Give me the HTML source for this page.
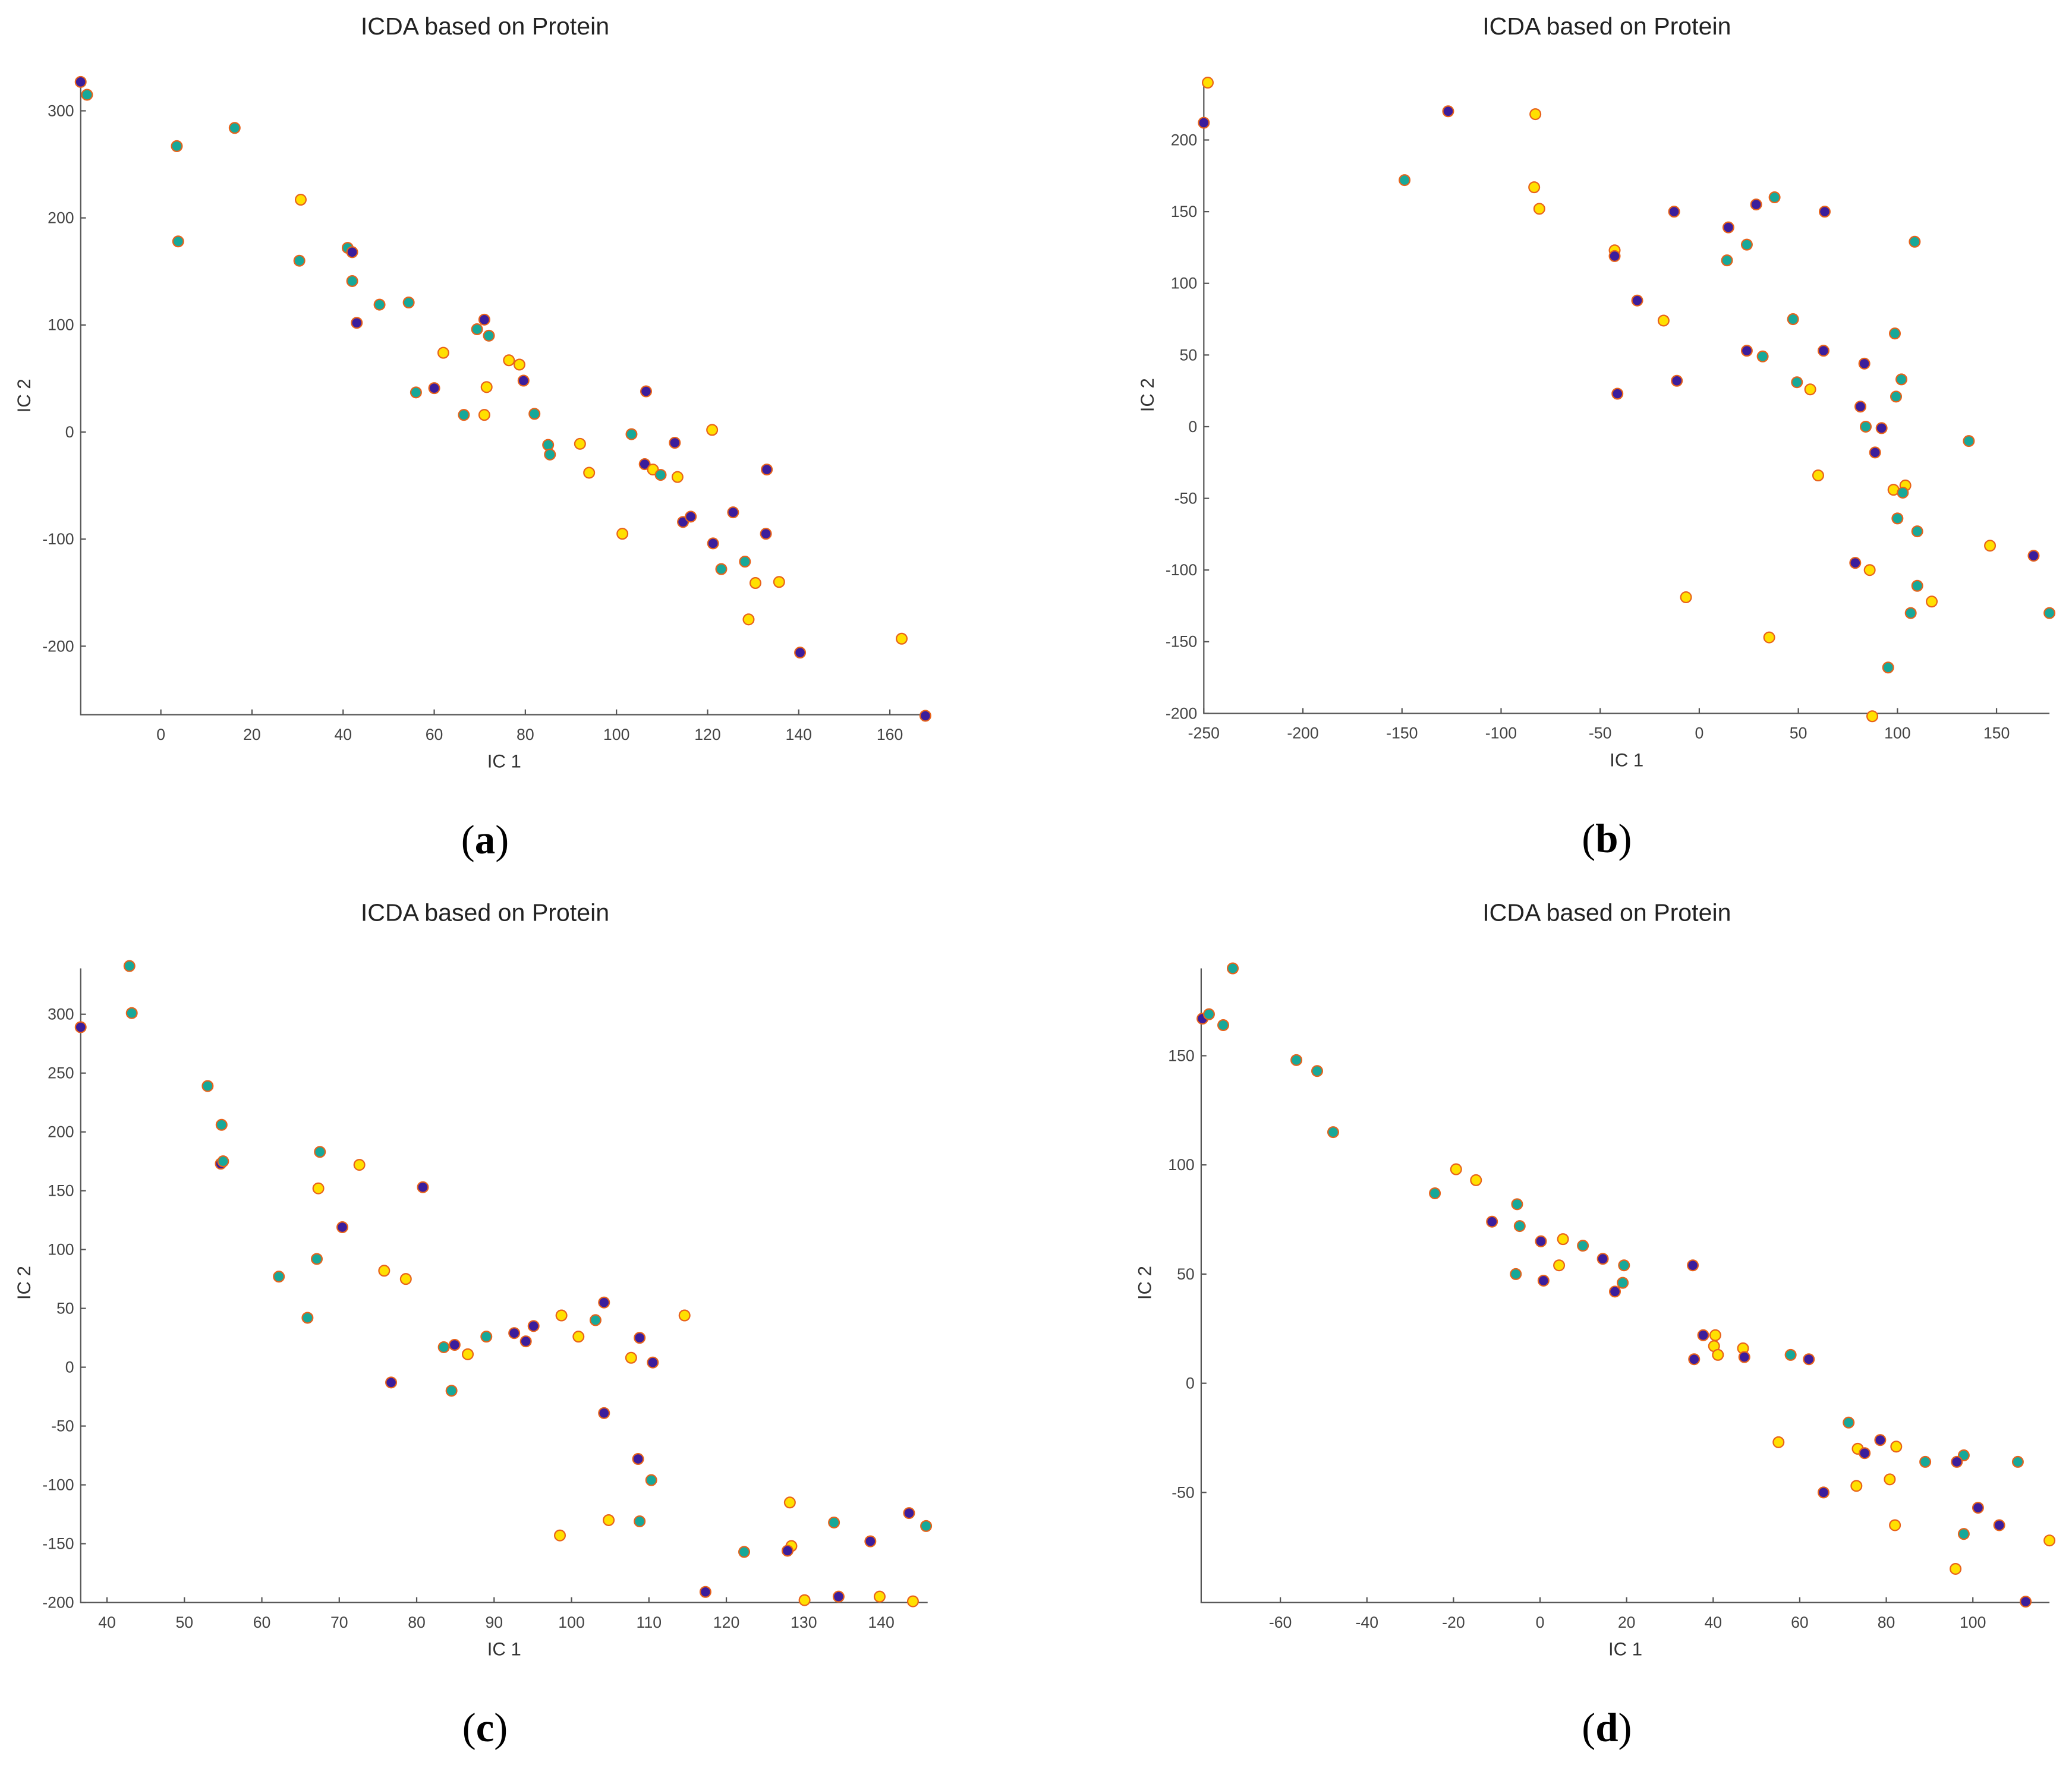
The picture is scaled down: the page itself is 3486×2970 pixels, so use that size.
<!DOCTYPE html>
<html><head><meta charset="utf-8"><style>
html,body{margin:0;padding:0;background:#fff;}
svg{display:block;}
</style></head><body>
<svg id="fig" width="3486" height="2970" viewBox="0 0 1568 1336" xmlns="http://www.w3.org/2000/svg" font-family="Liberation Sans, sans-serif"></svg>
<script>
// ---- Panel (a) data ----
const aX = [-17.6,-16.2,3.5,16.2,3.8,30.7,30.4,41,42,42,43,48,54.4,56,60,62,66.5,69.4,71,72,71.5,71,76.4,78.7,79.6,82,85,85.4,92,94,101.3,103.3,106.5,106.2,108,109.7,112.8,113.4,114.6,116.3,121,121.2,125.6,123,128.2,129,130.5,133,132.8,135.7,140.3,162.6,167.8];
const aY = [327,315,267,284,178,217,160,172,168,141,102,119,121,37,41,74,16,96,105,90,42,16,67,63,48,17,-12,-21,-11,-38,-95,-2,38,-30,-35,-40,-10,-42,-84,-79,2,-104,-75,-128,-121,-175,-141,-35,-95,-140,-206,-193,-265];
const aC = "PTTTTYTTPTPTTTPYTTPTYYYYPTTTYYYTPPYTPYPPYPPTTYYPPYPYP";
// ---- Panel (b) data ----
const bX = [-248,-250,-126.7,-148.7,-82.7,-83.3,-80.7,-42.7,-42.7,-31.3,-18,-41.3,-11.3,-12.7,-6.7,14.7,14,24,28.7,38,24,32,47.3,49.3,56,62.7,60,35.3,63.3,83.3,81.3,84,92,88.7,98.7,102,99.3,108.7,98,104,102.7,100,110,136,78.7,86,110,106.7,117.3,95.3,87.3,146.7,168.7,176.7];
const bY = [240,212,220,172,218,167,152,123,119,88,74,23,32,150,-119,139,116,127,155,160,53,49,75,31,26,53,-34,-147,150,44,14,0,-1,-18,65,33,21,129,-44,-41,-46,-64,-73,-10,-95,-100,-111,-130,-122,-168,-202,-83,-90,-130];
const bC = "YPPTYYYYPPYPPPYPTTPTPTTTYPYYPPPTPPTTTTYYTTTTPYTTYTYYPT";
// ---- Panel (c) data ----
const cX = [36.6,42.9,43.2,53,54.8,54.7,55,67.5,67.3,72.6,70.4,67.1,62.2,65.9,75.8,78.6,80.8,76.7,83.5,84.9,86.6,84.5,89,92.6,94.1,95.1,98.7,100.9,103.1,104.2,104.2,107.7,108.8,110.5,110.3,108.6,108.8,104.8,98.5,114.6,117.3,122.3,128.2,128.4,127.9,133.9,138.6,143.6,145.8,130.1,134.5,139.8,144.1];
const cY = [289,341,301,239,206,173,175,183,152,172,119,92,77,42,82,75,153,-13,17,19,11,-20,26,29,22,35,44,26,40,55,-39,8,25,4,-96,-78,-131,-130,-143,44,-191,-157,-115,-152,-156,-132,-148,-124,-135,-198,-195,-195,-199];
const cC = "PTTTTPTTYYPTTTYYPPTPYTTPPPYYTPPYPPTPTYYYPTYYPTPPTYPYY";
// ---- Panel (d) data ----
const dX = [-78,-76.5,-73.2,-71,-56.3,-51.5,-47.8,-24.3,-19.4,-14.8,-11.1,-5.3,-4.7,-5.6,0.2,0.8,5.3,4.4,9.9,14.5,19.4,19.1,17.3,35.3,35.6,37.7,40.5,40.2,41.1,46.9,47.2,57.9,62.1,55.1,71.3,73.4,75,78.6,82.3,73.1,80.8,65.5,89,82,97.9,96.3,110.4,101.2,106.1,97.9,96,117.7,112.2];
const dY = [167,169,164,190,148,143,115,87,98,93,74,82,72,50,65,47,66,54,63,57,54,46,42,54,11,22,22,17,13,16,12,13,11,-27,-18,-30,-32,-26,-29,-47,-44,-50,-36,-65,-33,-36,-36,-57,-65,-69,-85,-72,-100];
const dC = "PTTTTTTTYYPTTTPPYYTPTTPPPPYYYYPTPYTYPPYYYPTYTPTPPTYYP";
// tick labels
const aXT = [0,20,40,60,80,100,120,140,160], aYT = [-200,-100,0,100,200,300];
const bXT = [-250,-200,-150,-100,-50,0,50,100,150], bYT = [-200,-150,-100,-50,0,50,100,150,200];
const cXT = [40,50,60,70,80,90,100,110,120,130,140], cYT = [-200,-150,-100,-50,0,50,100,150,200,250,300];
const dXT = [-60,-40,-20,0,20,40,60,80,100], dYT = [-50,0,50,100,150];

const NS = "http://www.w3.org/2000/svg";
const svg = document.getElementById('fig');
const FILL = {P:'#3b1d9c', T:'#17a899', Y:'#ffe000'};
function mk(tag, attrs, parent){const e=document.createElementNS(NS,tag);for(const k in attrs)e.setAttribute(k,attrs[k]);(parent||svg).appendChild(e);return e;}

function panel(id, box, xlim, ylim, xs, ys, cs, xt, yt, cap, cx){
  const g = mk('g',{});
  
  
  const [L,T,R,B] = box;
  const sx = v => L + (v - xlim[0])/(xlim[1]-xlim[0])*(R-L);
  const sy = v => B - (v - ylim[0])/(ylim[1]-ylim[0])*(B-T);
  const title = mk('text',{x:cx,y:T-36,'font-size':18.5,'text-anchor':'middle',fill:'#222'},g);
  title.textContent='ICDA based on Protein';
  
  
  const ax = mk('path',{d:`M${L},${T} L${L},${B} L${R},${B}`,stroke:'#555',fill:'none','stroke-width':1},g);
  
  
  xt.forEach(v=>{const x=sx(v);
    mk('line',{x1:x,x2:x,y1:B,y2:B-4,stroke:'#555'},g);
    const t=mk('text',{x:x,y:B+19,'font-size':12,'text-anchor':'middle',fill:'#444'},g);t.textContent=v;
    
    });
  yt.forEach(v=>{const y=sy(v);
    mk('line',{x1:L,x2:L+4,y1:y,y2:y,stroke:'#555'},g);
    const t=mk('text',{x:L-5,y:y+4,'font-size':12,'text-anchor':'end',fill:'#444'},g);t.textContent=v;
    
    });
  const xl=mk('text',{x:(L+R)/2,y:B+40,'font-size':14,'text-anchor':'middle',fill:'#333'},g);xl.textContent='IC 1';
  
  
  const yc=(T+B)/2-2;
  const yl=mk('text',{x:L-38,y:yc,'font-size':14,'text-anchor':'middle',fill:'#333',transform:`rotate(-90 ${L-38} ${yc})`},g);yl.textContent='IC 2';
  
  
  xs.forEach((v,i)=>{
    const c=mk('circle',{cx:sx(v),cy:sy(ys[i]),r:4,fill:FILL[cs[i]],stroke:'#e8621a','stroke-width':1},g);
    
    
  });
  const cp=mk('text',{x:cx,y:B+105,'font-size':31,'text-anchor':'middle',fill:'#000','font-family':'Liberation Serif, serif'},g);
  cp.innerHTML='(<tspan font-weight="bold">'+cap+'</tspan>)';
  
  
}
panel('a',[61,62,702,541],[-17.6,168.3],[-264,327],aX,aY,aC,aXT,aYT,'a',367);
panel('b',[911,62,1551,540],[-250,176.7],[-200,240.5],bX,bY,bC,bXT,bYT,'b',1216);
panel('c',[61,733,702,1213],[36.6,146],[-200,339],cX,cY,cC,cXT,cYT,'c',367);
panel('d',[909,733,1551,1213],[-78.3,117.7],[-100.4,190],dX,dY,dC,dXT,dYT,'d',1216);
</script>
</body></html>
